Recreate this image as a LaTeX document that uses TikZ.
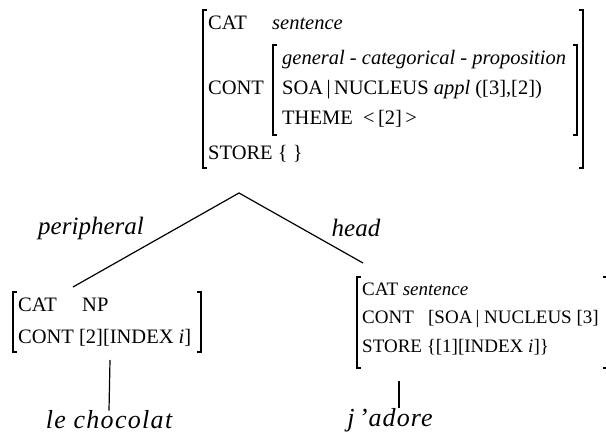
\documentclass[tikz,border=0pt]{standalone}
\usepackage{fontspec}
\setmainfont{Liberation Serif}
\begin{document}
\begin{tikzpicture}[x=1pt,y=-1pt,
  avm/.style={font=\fontsize{20.5}{24}\selectfont, inner sep=0pt, anchor=base west},
  ravm/.style={font=\fontsize{19}{22}\selectfont, inner sep=0pt, anchor=base west},
  lab/.style={font=\fontsize{25}{28}\selectfont\itshape, inner sep=0pt},
  word/.style={inner sep=0pt},
  brk/.style={line width=1.1pt},
  edge/.style={line width=1.2pt}]
\useasboundingbox (0,0) rectangle (606,438);

% ---------- top AVM ----------
\node[avm] (tcat)  at (208,30) {CAT};
\node[avm] (tsent) at (272,30) {\textit{sentence}};
\node[avm] (tcont) at (208,95) {CONT};
\node[avm] (tgen)  at (282,65) {\textit{general - categorical - proposition}};
\node[avm] (tsoa)  at (282,95) {SOA\,|\,NUCLEUS \textit{appl} ([3],[2])};
\node[avm] (tthm)  at (282,125) {THEME \ <\,[2]\,>};
\node[avm] (tsto)  at (208,160) {STORE \{ \}};
\draw[brk] (207,10) -- (203,10) -- (203,168) -- (207,168);
\draw[brk] (579,10) -- (583,10) -- (583,168) -- (579,168);
\draw[brk] (277,45) -- (273,45) -- (273,135) -- (277,135);
\draw[brk] (573,45) -- (577,45) -- (577,135) -- (573,135);

% ---------- tree ----------
\coordinate (apex) at (239,193);
\coordinate (lft) at (73,287);
\coordinate (rgt) at (363,263);
\draw[edge] (lft) -- (apex) -- (rgt);
\node[lab] (peri) at (91,228) {peripheral};
\node[lab] (head) at (356,228) {head};

% ---------- left AVM ----------
\node[avm] (lcat)  at (18,312) {CAT};
\node[avm] (lnp)   at (82,312) {NP};
\node[avm] (lcont) at (18,344) {CONT [2][INDEX \textit{i}]};
\draw[brk] (17,292) -- (13,292) -- (13,352) -- (17,352);
\draw[brk] (197,292) -- (201,292) -- (201,352) -- (197,352);
\coordinate (lstem) at (110,360);
\node[word, font=\fontsize{26}{29}\selectfont\itshape\addfontfeature{LetterSpace=5}] (choc) at (109,420) {le chocolat};
\draw[edge] (lstem) -- (choc.north);

% ---------- right AVM ----------
\node[ravm] (rcat)  at (362,296) {CAT \textit{sentence}};
\node[ravm] (rcont) at (362,324) {CONT \ \ [SOA\,|\ NUCLEUS [3]};
\node[ravm] (rsto)  at (362,353) {STORE \{[1][INDEX \textit{i}]\}};
\draw[brk] (361,277) -- (357,277) -- (357,368) -- (361,368);
\draw[brk] (603,277) -- (607,277) -- (607,368) -- (603,368);
\coordinate (rstem) at (399,381);
\node[word, font=\fontsize{26}{29}\selectfont\itshape\addfontfeature{LetterSpace=4}] (ador) at (390,420) {j\,’adore};
\draw[edge] (rstem) -- (rstem |- ador.north);
\end{tikzpicture}
\end{document}
